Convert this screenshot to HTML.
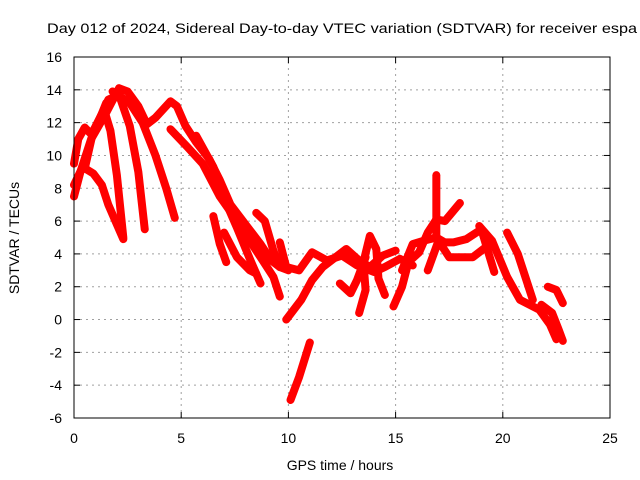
<!DOCTYPE html>
<html><head><meta charset="utf-8"><style>body{margin:0;background:#fff}svg{display:block;font-family:"Liberation Sans",sans-serif}</style></head>
<body>
<svg id="chart" width="640" height="480" viewBox="0 0 640 480">
<rect width="640" height="480" fill="#fff"/>
<text x="47" y="33" font-size="14" textLength="590" lengthAdjust="spacingAndGlyphs">Day 012 of 2024, Sidereal Day-to-day VTEC variation (SDTVAR) for receiver espa</text>
<g id="grid"></g><g id="ticks"></g><g id="series"></g>
<rect x="74" y="57" width="536" height="361" fill="none" stroke="#000" stroke-width="1"/>
<text x="340" y="470" font-size="14" text-anchor="middle">GPS time / hours</text>
<text transform="translate(19,238) rotate(-90)" font-size="14" text-anchor="middle">SDTVAR / TECUs</text>
</svg>
<script>
const xTicks=[0,5,10,15,20,25];
const yTicks=[-6,-4,-2,0,2,4,6,8,10,12,14,16];
const tr1=[[0,7.5],[0.3,9],[0.8,11],[1.5,12.6],[2.1,14.1],[2.5,13.9],[3,13],[3.4,11.9],[3.8,12.3],[4.5,13.3],[4.8,13],[5.2,11.8],[5.7,10.8],[6.3,9.8],[6.8,8.5],[7.3,7],[8,5.8],[8.7,4.6],[9.2,3.6],[9.6,3.2],[10.1,3.1]];
const tr2=[[0,9.5],[0.2,11],[0.5,11.7],[0.8,11.3],[1.1,11.9],[1.5,13.2],[2,13.6],[2.4,13.3]];
const tr3=[[0,8.2],[0.4,9.3],[0.9,8.9],[1.3,8.2],[1.6,7],[2,5.8],[2.3,4.9]];
const tr4=[[0.5,9.2],[0.9,11.5],[1.4,12.8],[1.7,11.5],[2,8.8],[2.3,5]];
const tr5=[[1,11.5],[1.6,13.4],[2.1,13.7],[2.6,11.8],[3,9],[3.3,5.5]];
const tr6=[[1.8,13.9],[2.6,13.2],[3.2,12],[3.8,10],[4.3,8],[4.7,6.2]];
const tr7=[[4.5,11.6],[5.3,10.5],[6,9.5],[6.8,7.5],[7.5,6.2],[8.2,4.8],[8.8,3.6],[9.3,2.6],[9.6,1.4]];
const tr8=[[5.7,11.2],[6.5,9.3],[7,7.4],[7.6,5.6],[8.2,3.7],[8.7,2.2]];
const tr9=[[6.5,6.3],[6.8,4.6],[7.1,3.5]];
const tr10=[[7,5.3],[7.6,3.8],[8.2,3],[8.5,2.8]];
const tr11=[[8.5,6.5],[8.9,6],[9.3,4.2],[9.6,3.2],[10,3]];
const tr12=[[9.6,4.7],[9.9,3.2],[10.5,3],[11.1,4.1],[11.8,3.6],[12.5,3.9],[13.2,3.3],[14,2.9],[14.5,3.2],[15.2,3.7],[15.8,3.3]];
const tr13=[[9.9,0],[10.6,1.2],[11.1,2.4],[11.6,3.2],[12.7,4.3],[13.3,3.6],[13.8,3.2],[14.4,3.9],[15,4.2]];
const tr14=[[10.1,-4.9],[10.5,-3.5],[11,-1.4]];
const tr15=[[13.3,0.4],[13.6,1.8],[13.5,3.5],[13.8,5.1],[14.1,4.3],[14.2,2.5],[14.5,1.5]];
const tr16=[[12.4,2.2],[12.9,1.6],[13.2,2.4],[13.6,3.8]];
const tr17=[[14.9,0.8],[15.3,2],[15.6,3.5],[16.1,4.1],[16.5,5.3],[16.9,6.1],[17.3,6],[18,7.1]];
const tr18=[[15.3,3],[15.8,4.6],[16.3,4.8],[16.9,5],[17.3,4.7],[17.7,4.7],[18.3,4.9],[19,5.5],[19.6,2.9]];
const tr19=[[16.9,5],[16.9,8.8]];
const tr20=[[16.5,3],[17,4.8],[17.5,3.8],[18.6,3.8],[19.3,4.5]];
const tr21=[[18.9,5.7],[19.5,4.8],[20.2,2.6],[20.8,1.2],[21.7,0.6],[22.2,-0.3],[22.5,-1.2]];
const tr22=[[20.2,5.3],[20.7,4],[21.1,2.4],[21.4,1.2]];
const tr23=[[22.1,2.0],[22.5,1.8],[22.8,1.0]];
const tr24=[[21.8,0.9],[22.3,0.4],[22.6,-0.6],[22.8,-1.3]];
const traces=[tr1,tr2,tr3,tr4,tr5,tr6,tr7,tr8,tr9,tr10,tr11,tr12,tr13,tr14,tr15,tr16,tr17,tr18,tr19,tr20,tr21,tr22,tr23,tr24];
const X0=74,X1=610,Y0=418,Y1=57;
function xs(t){return X0+(t-0)/(25-0)*(X1-X0);}
function ys(v){return Y0-(v+6)/(16+6)*(Y0-Y1);}
const NS='http://www.w3.org/2000/svg';
const grid=document.getElementById('grid'),ticks=document.getElementById('ticks'),ser=document.getElementById('series');
function mk(tag,attrs,parent){const e=document.createElementNS(NS,tag);for(const k in attrs)e.setAttribute(k,attrs[k]);parent.appendChild(e);return e;}
xTicks.forEach(t=>{const x=xs(t);
 if(t>0&&t<25){const g=mk('line',{x1:x,x2:x,y1:Y0,y2:Y1,stroke:'#a0a0a0','stroke-dasharray':'2,4'},grid);
 
 }
 mk('line',{x1:x,x2:x,y1:Y0,y2:Y0-6,stroke:'#000'},ticks);mk('line',{x1:x,x2:x,y1:Y1,y2:Y1+6,stroke:'#000'},ticks);
 const l=mk('text',{x:x,y:443,'font-size':14,'text-anchor':'middle'},ticks);l.textContent=t;
 
 });
yTicks.forEach(v=>{const y=ys(v);
 if(v>-6&&v<16){const g=mk('line',{x1:X0,x2:X1,y1:y,y2:y,stroke:'#a0a0a0','stroke-dasharray':'2,4'},grid);
 
 }
 mk('line',{x1:X0,x2:X0+6,y1:y,y2:y,stroke:'#000'},ticks);mk('line',{x1:X1,x2:X1-6,y1:y,y2:y,stroke:'#000'},ticks);
 const l=mk('text',{x:62,y:y+5,'font-size':14,'text-anchor':'end'},ticks);l.textContent=v;
 
 });
traces.forEach((tr,i)=>{
 const p=mk('polyline',{points:tr.map(d=>xs(d[0])+','+ys(d[1])).join(' '),fill:'none',stroke:'#ff0000','stroke-width':8,'stroke-linejoin':'round','stroke-linecap':'round'},ser);
 
 
});
</script>
</body></html>
